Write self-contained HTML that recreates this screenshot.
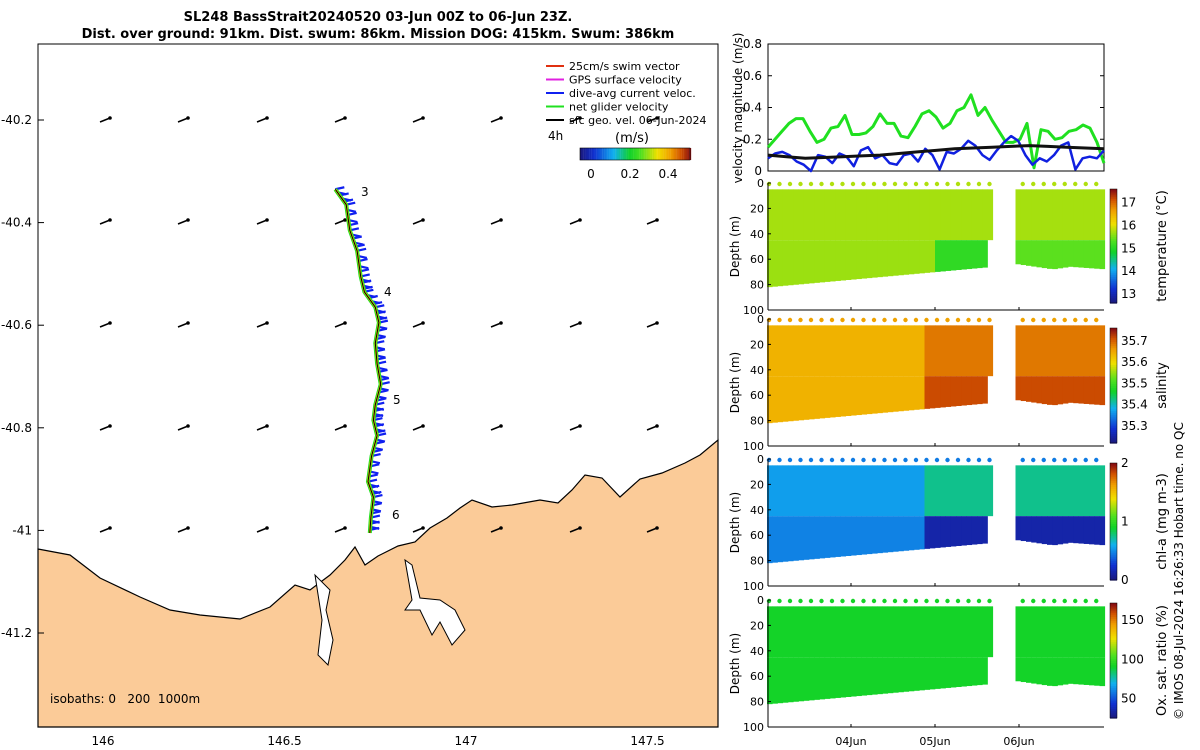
<!DOCTYPE html>
<html><head><meta charset="utf-8"><style>
html,body{margin:0;padding:0;background:#fff}
svg{display:block;font-family:"DejaVu Sans","Liberation Sans",sans-serif}
text{white-space:pre}
</style></head><body>
<svg id="s" width="1200" height="750" viewBox="0 0 1200 750">
<text x="378" y="21" font-size="13" font-weight="bold" text-anchor="middle">SL248 BassStrait20240520 03-Jun 00Z to 06-Jun 23Z.</text>
<text x="378" y="38" font-size="13" font-weight="bold" text-anchor="middle">Dist. over ground: 91km. Dist. swum: 86km. Mission DOG: 415km. Swum: 386km</text>
<g id="map"></g>
<g id="right"></g>
<text transform="translate(1183,720) rotate(-90)" font-size="12">© IMOS 08-Jul-2024 16:26:33 Hobart time. no QC</text>
</svg>
<script>
// ---------- data ----------
const lonTicks=[146,146.5,147,147.5];
const latTicks=[-40.2,-40.4,-40.6,-40.8,-41,-41.2];
const latLabels=['-40.2','-40.4','-40.6','-40.8','-41','-41.2'];
const trackLon=[146.64,146.67,146.68,146.7,146.71,146.72,146.75,146.76,146.75,146.755,146.765,146.75,146.745,146.755,146.74,146.73,146.745,146.738,146.735];
const trackLat=[-40.335,-40.365,-40.415,-40.455,-40.505,-40.535,-40.565,-40.595,-40.635,-40.675,-40.715,-40.755,-40.785,-40.815,-40.855,-40.905,-40.935,-40.975,-41.005];
const velGreen=[0.15,0.2,0.25,0.3,0.33,0.33,0.25,0.18,0.2,0.27,0.28,0.35,0.23,0.23,0.24,0.28,0.36,0.3,0.3,0.22,0.21,0.28,0.36,0.38,0.34,0.27,0.3,0.38,0.4,0.48,0.35,0.4,0.32,0.25,0.18,0.18,0.2,0.3,0.02,0.26,0.25,0.2,0.21,0.25,0.26,0.29,0.27,0.18,0.05];
const velBlue=[0.08,0.11,0.12,0.1,0.06,0.04,0.0,0.1,0.09,0.05,0.11,0.09,0.03,0.13,0.15,0.08,0.1,0.05,0.04,0.1,0.11,0.06,0.14,0.1,0.01,0.12,0.11,0.14,0.19,0.16,0.1,0.07,0.13,0.18,0.22,0.19,0.1,0.04,0.08,0.06,0.1,0.16,0.18,0.01,0.08,0.09,0.08,0.13];
const velBlack=[0.1,0.09,0.08,0.085,0.09,0.095,0.1,0.11,0.12,0.13,0.14,0.145,0.15,0.155,0.16,0.155,0.15,0.145,0.14];
const dayTicks=['04Jun','05Jun','06Jun'];
const profTimes=[];for(let t=0;t<=63;t+=1.5)profTimes.push(t);for(let t=71;t<=96;t+=1.5)profTimes.push(t);
const bottomStart=[82,80,78,76,74,72,70,68,66];
const bottomEnd=[64,66,68,66,67,68];
const tempTop=15.75, tempBot1=15.7, tempBot2=15.1, tempSec2Top=15.75, tempSec2Bot=15.4;
const salTop1=35.645, salTop2=35.69, salBot2=35.72;
const chlTop1=0.55, chlTop2=0.75, chlBot2=0.12;
const oxVal=92;
const dotTemp=15.8, dotSal=35.66, dotChl=0.45, dotOx=92;

// ---------- helpers ----------
const NS='http://www.w3.org/2000/svg';
function el(tag,attrs,parent,txt){const e=document.createElementNS(NS,tag);for(const k in attrs)e.setAttribute(k,attrs[k]);if(txt!==undefined)e.textContent=txt;parent.appendChild(e);return e;}
const stops=[[0,[26,26,128]],[0.12,[16,48,208]],[0.3,[16,176,240]],[0.45,[16,210,40]],[0.55,[80,224,32]],[0.7,[240,224,0]],[0.82,[240,160,0]],[0.92,[208,80,0]],[1,[138,16,16]]];
function cmap(f){f=Math.max(0,Math.min(1,f));for(let i=1;i<stops.length;i++){if(f<=stops[i][0]){const a=stops[i-1],b=stops[i],u=(f-a[0])/(b[0]-a[0]);return 'rgb('+a[1].map((v,j)=>Math.round(v+(b[1][j]-v)*u)).join(',')+')';}}return 'rgb(138,16,16)';}

// ---------- map ----------
const map=document.getElementById('map');
const X=lon=>103+(lon-146)*363;
const Y=lat=>120+(-40.2-lat)*513;
el('rect',{x:38,y:44,width:680,height:683,fill:'#fff'},map);
const land=el('path',{d:'M38,549 L70,555 L100,578 L140,597 L170,610 L200,615 L240,619 L270,607 L295,585 L310,590 L330,575 L345,560 L355,547 L365,565 L378,556 L398,546 L415,542 L430,528 L447,518 L460,508 L472,500 L492,507 L512,505 L540,500 L558,503 L572,490 L585,475 L602,478 L620,497 L640,479 L662,473 L685,463 L700,455 L718,440 L718,727 L38,727 Z',fill:'#fbcb98',stroke:'#000','stroke-width':1.2},map);


el('path',{d:'M315,575 L322,620 L318,655 L328,665 L333,640 L326,610 L330,590 Z',fill:'#fff',stroke:'#000','stroke-width':1},map);
el('path',{d:'M405,560 L412,600 L405,610 L420,610 L432,635 L440,622 L452,645 L465,630 L455,610 L440,600 L420,598 L412,565 Z',fill:'#fff',stroke:'#000','stroke-width':1},map);
el('rect',{x:38,y:44,width:680,height:683,fill:'none',stroke:'#000','stroke-width':1},map);
lonTicks.forEach(l=>{el('text',{x:X(l),y:745,'font-size':12,'text-anchor':'middle'},map,String(l));});
latTicks.forEach((l,i)=>{el('line',{x1:38,x2:44,y1:Y(l),y2:Y(l),stroke:'#000'},map);el('text',{x:32,y:Y(l)+4,'font-size':12,'text-anchor':'end'},map,latLabels[i]);});
[105,183,262,340,418,496,575,652].forEach(x=>[120,222,325,428,530].forEach(y=>{
  el('line',{x1:x-5,y1:y+2,x2:x+5,y2:y-2,stroke:'#000','stroke-width':1.5},map);
  el('circle',{cx:x+5,cy:y-2,r:1.8,fill:'#000'},map);
}));
const pts=trackLon.map((l,i)=>[X(l),Y(trackLat[i])]);
for(let i=0;i<pts.length-1;i++){const [x1,y1]=pts[i],[x2,y2]=pts[i+1];
  for(let k=0;k<5;k++){const u=k/5,x=x1+(x2-x1)*u,y=y1+(y2-y1)*u;el('line',{x1:x,y1:y,x2:x+9,y2:y-2+(k%2)*4,stroke:'#1020f0','stroke-width':2.2},map);}}
const path=pts.map((p,i)=>(i?'L':'M')+p[0].toFixed(1)+','+p[1].toFixed(1)).join(' ');
el('path',{d:path,fill:'none',stroke:'#20e020','stroke-width':4},map);
el('path',{d:path,fill:'none',stroke:'#f0c000','stroke-width':2},map);
el('path',{d:path,fill:'none',stroke:'#000','stroke-width':1},map);
[['3',361,196],['4',384,296],['5',393,404],['6',392,519]].forEach(a=>el('text',{x:a[1],y:a[2],'font-size':12},map,a[0]));
const leg=[['25cm/s swim vector','#e03010'],['GPS surface velocity','#e020e0'],['dive-avg current veloc.','#1020f0'],['net glider velocity','#20e020'],['sfc geo. vel. 06-Jun-2024','#000']];
leg.forEach((L,i)=>{const y=66+i*13.5;el('line',{x1:546,x2:564,y1:y,y2:y,stroke:L[1],'stroke-width':2},map);el('text',{x:569,y:y+4,'font-size':11},map,L[0]);});
el('text',{x:548,y:140,'font-size':12},map,'4h');
el('text',{x:615,y:142,'font-size':13},map,'(m/s)');
for(let i=0;i<60;i++)el('rect',{x:580+i*1.85,y:148,width:2,height:12,fill:cmap(i/59)},map);
el('rect',{x:580,y:148,width:110,height:12,fill:'none',stroke:'#000','stroke-width':0.6},map);
[['0',591],['0.2',630],['0.4',668]].forEach(t=>el('text',{x:t[1],y:178,'font-size':12,'text-anchor':'middle'},map,t[0]));
el('text',{x:50,y:703,'font-size':12},map,'isobaths: 0   200  1000m');

// ---------- right panels ----------
const R=document.getElementById('right');
const T=h=>767+h/24*84;
const vx0=768,vx1=1104,vy0=44,vy1=171;
const VY=v=>vy1-(v/0.8)*(vy1-vy0);
el('rect',{x:vx0,y:vy0,width:vx1-vx0,height:vy1-vy0,fill:'#fff',stroke:'#000'},R);
[0,0.2,0.4,0.6,0.8].forEach(v=>{el('text',{x:762,y:VY(v)+4,'font-size':12,'text-anchor':'end'},R,String(v));el('line',{x1:vx0,x2:vx0+4,y1:VY(v),y2:VY(v),stroke:'#000'},R);el('line',{x1:vx1,x2:vx1-4,y1:VY(v),y2:VY(v),stroke:'#000'},R);});
el('text',{transform:'translate(742,108) rotate(-90)','font-size':12,'text-anchor':'middle'},R,'velocity magnitude (m/s)');
function series(arr,col,w){const n=arr.length;const d=arr.map((v,i)=>(i?'L':'M')+(vx0+i/(n-1)*(vx1-vx0)).toFixed(1)+','+VY(v).toFixed(1)).join(' ');return el('path',{d:d,fill:'none',stroke:col,'stroke-width':w,'stroke-linejoin':'round'},R);}
const gS=series(velGreen,'#20e020',3);
const bS=series(velBlue,'#1020e0',2.5);
const kS=series(velBlack,'#111',3);

const panels=[
 {y0:183,cb:[189,303],min:12.6,max:17.6,ticks:[13,14,15,16,17],label:'temperature (°C)',name:'temperature',
  top:t=>t<63?tempTop:tempSec2Top,bot:t=>t<48?tempBot1:(t<63?tempBot2:tempSec2Bot),dot:dotTemp},
 {y0:319,cb:[328,443],min:35.22,max:35.76,ticks:[35.3,35.4,35.5,35.6,35.7],label:'salinity',name:'salinity',
  top:t=>t<45?salTop1:salTop2,bot:t=>t<45?salTop1:salBot2,dot:dotSal},
 {y0:459,cb:[463,580],min:0,max:2,ticks:[0,1,2],label:'chl-a (mg m-3)',name:'chlorophyll',
  top:t=>t<45?chlTop1:chlTop2,bot:t=>t<45?chlTop1-0.08:chlBot2,dot:dotChl},
 {y0:600,cb:[603,718],min:25,max:172,ticks:[50,100,150],label:'Ox. sat. ratio (%)',name:'oxygen',
  top:t=>oxVal,bot:t=>oxVal,dot:dotOx}
];
const PH=127;
function bottom(t){if(t<63){const i=Math.min(bottomStart.length-2,Math.floor(t/8));const u=(t-i*8)/8;return bottomStart[i]+(bottomStart[i+1]-bottomStart[i])*Math.min(1,u);}const k=(t-71)/5;const i=Math.min(bottomEnd.length-2,Math.floor(k));return bottomEnd[i]+(bottomEnd[i+1]-bottomEnd[i])*(k-i);}
panels.forEach(P=>{
  const g=el('g',{},R);
  
  
  const DY=d=>P.y0+d/100*PH;
  el('rect',{x:vx0,y:P.y0,width:vx1-vx0,height:PH,fill:'#fff'},g);
  const f=v=>(v-P.min)/(P.max-P.min);
  profTimes.forEach(t=>{
    const x=T(t),w=84/24*1.6,b=bottom(t);
    el('rect',{x:x,y:DY(5),width:w,height:DY(45)-DY(5),fill:cmap(f(P.top(t)))},g);
    el('rect',{x:x,y:DY(45),width:w,height:DY(b)-DY(45),fill:cmap(f(P.bot(t)))},g);
  });
  profTimes.filter((t,i)=>i%2===0).forEach(t=>el('circle',{cx:T(t)+2,cy:DY(0)+1,r:2.2,fill:cmap(f(P.dot))},g));
  el('line',{x1:vx0,x2:vx0,y1:P.y0,y2:P.y0+PH,stroke:'#000'},g);
  el('line',{x1:vx0,x2:vx1,y1:P.y0+PH,y2:P.y0+PH,stroke:'#000'},g);
  [0,20,40,60,80,100].forEach(d=>{el('text',{x:764,y:DY(d)+4,'font-size':11,'text-anchor':'end'},g,String(d));el('line',{x1:vx0,x2:vx0+3,y1:DY(d),y2:DY(d),stroke:'#000'},g);});
  el('text',{transform:'translate(739,'+(P.y0+PH/2)+') rotate(-90)','font-size':12,'text-anchor':'middle'},g,'Depth (m)');
  [1,2,3].forEach(d=>el('line',{x1:767+d*84,x2:767+d*84,y1:P.y0+PH,y2:P.y0+PH-3,stroke:'#000'},g));
  const [c0,c1]=P.cb;const n=60;
  for(let i=0;i<n;i++)el('rect',{x:1110,y:c1-(i+1)*(c1-c0)/n,width:7,height:(c1-c0)/n+0.6,fill:cmap(i/(n-1))},g);
  el('rect',{x:1110,y:c0,width:7,height:c1-c0,fill:'none',stroke:'#000','stroke-width':0.5},g);
  P.ticks.forEach(v=>{const y=c1-f(v)*(c1-c0);el('text',{x:1121,y:y+4,'font-size':12},g,String(v));});
  el('text',{transform:'translate(1166,'+((c0+c1)/2)+') rotate(-90)','font-size':13,'text-anchor':'middle'},g,P.label);
});
dayTicks.forEach((d,i)=>el('text',{x:767+(i+1)*84,y:745,'font-size':11,'text-anchor':'middle'},R,d));
</script>
</body></html>
